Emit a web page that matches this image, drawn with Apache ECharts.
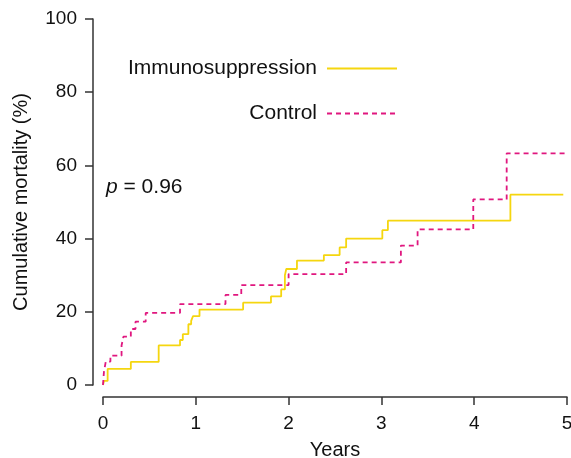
<!DOCTYPE html>
<html>
<head>
<meta charset="utf-8">
<script src="https://cdn.jsdelivr.net/npm/echarts@6/dist/echarts.min.js"></script>
<style>
  html, body { margin: 0; padding: 0; background: #fff; }
  #chart { width: 571px; height: 458px; }
</style>
</head>
<body>
<div id="chart"></div>
<script>
// 数据：阶梯曲线的跳变时间（年）与累计死亡率（%）
const immunoTimes = [0, 0.01, 0.05, 0.30, 0.60, 0.83, 0.86, 0.92, 0.95, 0.97, 1.04, 1.51, 1.81, 1.92, 1.96, 1.975, 2.09, 2.38, 2.55, 2.62, 3.01, 3.07, 4.39, 4.96];
const immunoValues = [0, 1.1, 4.4, 6.3, 10.8, 12.3, 13.9, 16.6, 17.5, 18.8, 20.6, 22.5, 24.2, 26.1, 30.0, 31.7, 34.0, 35.5, 37.6, 40.0, 42.3, 44.9, 52.0, 52.0];

const controlTimes = [0, 0.01, 0.03, 0.08, 0.20, 0.22, 0.30, 0.35, 0.46, 0.83, 1.32, 1.49, 2.0, 2.62, 3.21, 3.39, 3.99, 4.35, 5.0];
const controlValues = [0, 3.6, 6.4, 8.0, 10.8, 13.2, 15.3, 17.3, 19.7, 22.1, 24.6, 27.3, 30.3, 33.5, 38.1, 42.5, 50.7, 63.3, 63.3];

const seriesNames = ['Immunosuppression', 'Control'];
const xTicks = [0, 1, 2, 3, 4, 5];
const yTicks = [0, 20, 40, 60, 80, 100];

const font = 'Liberation Sans, Arial, Helvetica, sans-serif';
const axisColor = '#333';

function zip(xs, ys) {
    return xs.map((x, i) => [x, ys[i]]);
}

const myChart = echarts.init(document.getElementById('chart'));
myChart.setOption({
    animation: false,
    textStyle: { fontFamily: font },
    grid: { left: 103, top: 19, width: 464, height: 366, outerBoundsMode: 'none', containLabel: false },
    legend: {
        orient: 'vertical',
        align: 'right',
        right: 173,
        top: 58,
        padding: 0,
        itemWidth: 70,
        itemHeight: 20,
        itemGap: 24,
        itemStyle: { opacity: 0 },
        textStyle: { fontSize: 21, color: '#111', fontFamily: font, padding: [0, 5, 0, 0] },
        data: seriesNames
    },
    xAxis: {
        type: 'value',
        min: xTicks[0],
        max: xTicks[xTicks.length - 1],
        interval: 1,
        offset: 12,
        name: 'Years',
        nameLocation: 'middle',
        nameGap: 43,
        nameTextStyle: { fontSize: 20, color: '#111' },
        axisLine: { onZero: false, lineStyle: { color: axisColor, width: 1.5 } },
        axisTick: { length: 8, lineStyle: { color: axisColor, width: 1.5 } },
        axisLabel: { fontSize: 19, color: '#111', margin: 17 },
        splitLine: { show: false }
    },
    yAxis: {
        type: 'value',
        min: yTicks[0],
        max: yTicks[yTicks.length - 1],
        interval: 20,
        offset: 10,
        name: 'Cumulative mortality (%)',
        nameLocation: 'middle',
        nameGap: 62,
        nameTextStyle: { fontSize: 20, color: '#111' },
        axisLine: { show: true, onZero: false, lineStyle: { color: axisColor, width: 1.5 } },
        axisTick: { show: true, length: 8, lineStyle: { color: axisColor, width: 1.5 } },
        axisLabel: { fontSize: 19, color: '#111', margin: 16 },
        splitLine: { show: false }
    },
    graphic: [{
        type: 'text',
        left: 106,
        top: 177,
        style: {
            text: '{i|p} = 0.96',
            fontSize: 21,
            fontFamily: font,
            fill: '#111',
            rich: {
                i: { fontStyle: 'italic', fontSize: 21, fontFamily: font, fill: '#111' }
            }
        }
    }],
    series: [{
        name: seriesNames[0],
        type: 'line',
        step: 'end',
        symbol: 'none',
        data: zip(immunoTimes, immunoValues),
        lineStyle: { color: '#F5D60F', width: 1.8 },
        itemStyle: { color: '#F5D60F' }
    }, {
        name: seriesNames[1],
        type: 'line',
        step: 'end',
        symbol: 'none',
        data: zip(controlTimes, controlValues),
        lineStyle: { color: '#E0177F', width: 1.8, type: [5, 4] },
        itemStyle: { color: '#E0177F' }
    }]
});
</script>
</body>
</html>
